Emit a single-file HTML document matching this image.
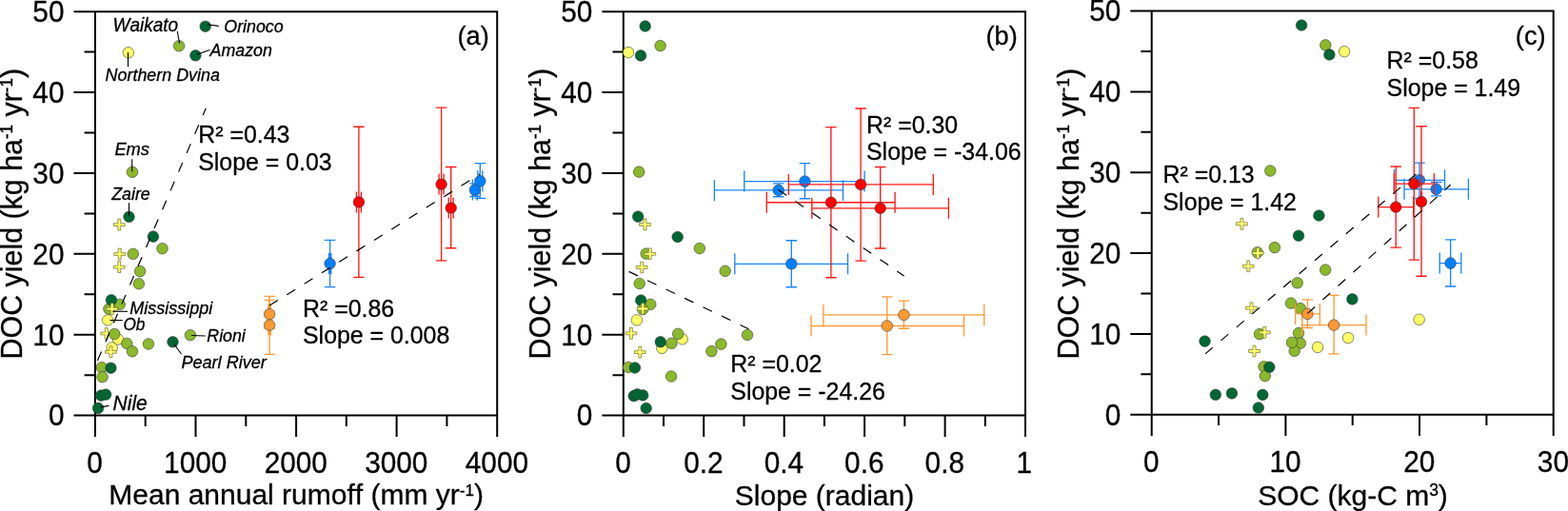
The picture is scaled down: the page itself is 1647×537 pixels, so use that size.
<!DOCTYPE html>
<html lang="en">
<head>
<meta charset="utf-8">
<title>DOC yield vs runoff, slope and SOC</title>
<style>html,body{margin:0;padding:0;background:#fff;}body{width:1647px;height:537px;overflow:hidden;}svg{display:block;}</style>
</head>
<body>
<svg role="img" aria-label="DOC yield scatter plots" width="1647" height="537" viewBox="0 0 1647 537" font-family='"Liberation Sans", Arial, Helvetica, sans-serif' fill="#000" style="font-kerning:none">
<style>text{stroke:#000;stroke-width:0.3px;stroke-linejoin:round}</style>
<rect width="1647" height="537" fill="#fff"/>
<g id="panel-a">
<path d="M77.5 12.2H522.2V458.9M99.9 12.2V458.9M77.5 436.6H522.2M205.5 436.6v22.3M311.1 436.6v22.3M416.6 436.6v22.3M152.7 436.6v11.3M258.3 436.6v11.3M363.8 436.6v11.3M469.4 436.6v11.3M77.5 351.7H99.9M77.5 266.8H99.9M77.5 182H99.9M77.5 97.1H99.9M88.6 394.2H99.9M88.6 309.3H99.9M88.6 224.4H99.9M88.6 139.5H99.9M88.6 54.6H99.9" fill="none" stroke="#000" stroke-width="2.0"/>
<text transform="translate(99.6 496.5) scale(1 1.065)" font-size="29.8" text-anchor="middle">0</text>
<text transform="translate(205.2 496.5) scale(1 1.065)" font-size="29.8" text-anchor="middle">1000</text>
<text transform="translate(310.8 496.5) scale(1 1.065)" font-size="29.8" text-anchor="middle">2000</text>
<text transform="translate(416.3 496.5) scale(1 1.065)" font-size="29.8" text-anchor="middle">3000</text>
<text transform="translate(521.9 496.5) scale(1 1.065)" font-size="29.8" text-anchor="middle">4000</text>
<text transform="translate(67.5 447.4) scale(1 1.065)" font-size="29.8" text-anchor="end">0</text>
<text transform="translate(67.5 362.5) scale(1 1.065)" font-size="29.8" text-anchor="end">10</text>
<text transform="translate(67.5 277.6) scale(1 1.065)" font-size="29.8" text-anchor="end">20</text>
<text transform="translate(67.5 192.8) scale(1 1.065)" font-size="29.8" text-anchor="end">30</text>
<text transform="translate(67.5 107.9) scale(1 1.065)" font-size="29.8" text-anchor="end">40</text>
<text transform="translate(67.5 23) scale(1 1.065)" font-size="29.8" text-anchor="end">50</text>
<circle cx="134.8" cy="55.3" r="5.8" fill="#ffff66" stroke="#3a3a3a" stroke-width="0.6"/>
<circle cx="188.1" cy="48.3" r="5.8" fill="#8cb82b" stroke="#3a3a3a" stroke-width="0.6"/>
<circle cx="215.7" cy="27.7" r="5.8" fill="#006633" stroke="#3a3a3a" stroke-width="0.6"/>
<circle cx="205.4" cy="58.3" r="5.8" fill="#006633" stroke="#3a3a3a" stroke-width="0.6"/>
<circle cx="139" cy="180.8" r="5.8" fill="#8cb82b" stroke="#3a3a3a" stroke-width="0.6"/>
<circle cx="135.5" cy="227.8" r="5.8" fill="#006633" stroke="#3a3a3a" stroke-width="0.6"/>
<polygon points="123.8,230.2 126.7,230.2 126.7,234.7 131.1,234.7 131.1,237.5 126.7,237.5 126.7,242 123.8,242 123.8,237.5 119.3,237.5 119.3,234.7 123.8,234.7" fill="#ffff66" stroke="#6b6b3a" stroke-width="0.7"/>
<circle cx="160.9" cy="248.6" r="5.8" fill="#006633" stroke="#3a3a3a" stroke-width="0.6"/>
<circle cx="170.5" cy="261.2" r="5.8" fill="#8cb82b" stroke="#3a3a3a" stroke-width="0.6"/>
<circle cx="139.8" cy="266.8" r="5.8" fill="#8cb82b" stroke="#3a3a3a" stroke-width="0.6"/>
<polygon points="124.2,261.1 127.2,261.1 127.2,265.6 131.6,265.6 131.6,268.4 127.2,268.4 127.2,272.9 124.2,272.9 124.2,268.4 119.8,268.4 119.8,265.6 124.2,265.6" fill="#ffff66" stroke="#6b6b3a" stroke-width="0.7"/>
<polygon points="123.8,274.7 126.7,274.7 126.7,279.2 131.1,279.2 131.1,282.1 126.7,282.1 126.7,286.5 123.8,286.5 123.8,282.1 119.3,282.1 119.3,279.2 123.8,279.2" fill="#ffff66" stroke="#6b6b3a" stroke-width="0.7"/>
<circle cx="147.1" cy="285.1" r="5.8" fill="#8cb82b" stroke="#3a3a3a" stroke-width="0.6"/>
<circle cx="145.8" cy="298.2" r="5.8" fill="#8cb82b" stroke="#3a3a3a" stroke-width="0.6"/>
<circle cx="125.7" cy="320" r="5.8" fill="#8cb82b" stroke="#3a3a3a" stroke-width="0.6"/>
<circle cx="114.4" cy="324.6" r="5.8" fill="#8cb82b" stroke="#3a3a3a" stroke-width="0.6"/>
<circle cx="116.9" cy="315.3" r="5.8" fill="#006633" stroke="#3a3a3a" stroke-width="0.6"/>
<polygon points="116.2,318.7 119.2,318.7 119.2,323.2 123.6,323.2 123.6,326.1 119.2,326.1 119.2,330.5 116.2,330.5 116.2,326.1 111.8,326.1 111.8,323.2 116.2,323.2" fill="#ffff66" stroke="#6b6b3a" stroke-width="0.7"/>
<circle cx="113.2" cy="336.4" r="5.8" fill="#ffff66" stroke="#3a3a3a" stroke-width="0.6"/>
<circle cx="124" cy="356.5" r="5.8" fill="#ffff66" stroke="#3a3a3a" stroke-width="0.6"/>
<polygon points="110.2,344.6 113.2,344.6 113.2,349.1 117.6,349.1 117.6,351.9 113.2,351.9 113.2,356.4 110.2,356.4 110.2,351.9 105.8,351.9 105.8,349.1 110.2,349.1" fill="#ffff66" stroke="#6b6b3a" stroke-width="0.7"/>
<circle cx="120.2" cy="351" r="5.8" fill="#8cb82b" stroke="#3a3a3a" stroke-width="0.6"/>
<circle cx="133.3" cy="361" r="5.8" fill="#8cb82b" stroke="#3a3a3a" stroke-width="0.6"/>
<circle cx="139" cy="369.3" r="5.8" fill="#8cb82b" stroke="#3a3a3a" stroke-width="0.6"/>
<circle cx="155.9" cy="361.5" r="5.8" fill="#8cb82b" stroke="#3a3a3a" stroke-width="0.6"/>
<circle cx="181.5" cy="359.3" r="5.8" fill="#006633" stroke="#3a3a3a" stroke-width="0.6"/>
<circle cx="199.9" cy="352.2" r="5.8" fill="#8cb82b" stroke="#3a3a3a" stroke-width="0.6"/>
<circle cx="117.7" cy="365.5" r="5.8" fill="#ffff66" stroke="#3a3a3a" stroke-width="0.6"/>
<polygon points="115,363.9 117.9,363.9 117.9,368.4 122.3,368.4 122.3,371.2 117.9,371.2 117.9,375.7 115,375.7 115,371.2 110.5,371.2 110.5,368.4 115,368.4" fill="#ffff66" stroke="#6b6b3a" stroke-width="0.7"/>
<circle cx="106.9" cy="386.2" r="5.8" fill="#8cb82b" stroke="#3a3a3a" stroke-width="0.6"/>
<circle cx="116.4" cy="386.7" r="5.8" fill="#006633" stroke="#3a3a3a" stroke-width="0.6"/>
<circle cx="107.6" cy="396.2" r="5.8" fill="#8cb82b" stroke="#3a3a3a" stroke-width="0.6"/>
<circle cx="106.1" cy="415.6" r="5.8" fill="#006633" stroke="#3a3a3a" stroke-width="0.6"/>
<circle cx="111.1" cy="414.6" r="5.8" fill="#006633" stroke="#3a3a3a" stroke-width="0.6"/>
<circle cx="103.1" cy="428.9" r="5.8" fill="#006633" stroke="#3a3a3a" stroke-width="0.6"/>
<path d="M283.1 311.4V372.4M277.4 311.4H288.8M277.4 372.4H288.8M281.9 341.6H284.3M281.9 330.6V352.6M284.3 330.6V352.6" fill="none" stroke="#ff9a36" stroke-width="1.35"/>
<path d="M283.1 315.4V345M277.4 315.4H288.8M277.4 345H288.8M281.9 330.2H284.3M281.9 319.2V341.2M284.3 319.2V341.2" fill="none" stroke="#ff9a36" stroke-width="1.35"/>
<circle cx="283.1" cy="341.6" r="5.8" fill="#ff9933" stroke="#3a3a3a" stroke-width="0.6"/>
<circle cx="283.1" cy="330.2" r="5.8" fill="#ff9933" stroke="#3a3a3a" stroke-width="0.6"/>
<path d="M346.6 252.4V301.6M340.9 252.4H352.3M340.9 301.6H352.3M345.4 277H347.8M345.4 266V288M347.8 266V288" fill="none" stroke="#1a85ff" stroke-width="1.35"/>
<path d="M498.9 192.8V206.5M493.2 192.8H504.6M493.2 206.5H504.6M496.4 199.6H501.4M496.4 188.6V210.6M501.4 188.6V210.6" fill="none" stroke="#1a85ff" stroke-width="1.35"/>
<path d="M504.3 171.6V208.4M498.6 171.6H510M498.6 208.4H510M501.8 190.3H506.8M501.8 179.3V201.3M506.8 179.3V201.3" fill="none" stroke="#1a85ff" stroke-width="1.35"/>
<circle cx="346.6" cy="277" r="5.8" fill="#0080ff" stroke="#3a3a3a" stroke-width="0.6"/>
<circle cx="498.9" cy="199.6" r="5.8" fill="#0080ff" stroke="#3a3a3a" stroke-width="0.6"/>
<circle cx="504.3" cy="190.3" r="5.8" fill="#0080ff" stroke="#3a3a3a" stroke-width="0.6"/>
<path d="M376.9 133.2V291.4M371.2 133.2H382.6M371.2 291.4H382.6M374.4 212.4H379.4M374.4 201.4V223.4M379.4 201.4V223.4" fill="none" stroke="#ff1a1a" stroke-width="1.35"/>
<path d="M463.6 113.1V273.8M457.9 113.1H469.3M457.9 273.8H469.3M461.1 193.6H466.1M461.1 182.6V204.6M466.1 182.6V204.6" fill="none" stroke="#ff1a1a" stroke-width="1.35"/>
<path d="M473.7 175.5V260.7M468 175.5H479.4M468 260.7H479.4M471.2 218.5H476.2M471.2 207.5V229.5M476.2 207.5V229.5" fill="none" stroke="#ff1a1a" stroke-width="1.35"/>
<circle cx="376.9" cy="212.4" r="5.8" fill="#ff0000" stroke="#3a3a3a" stroke-width="0.6"/>
<circle cx="463.6" cy="193.6" r="5.8" fill="#ff0000" stroke="#3a3a3a" stroke-width="0.6"/>
<circle cx="473.7" cy="218.5" r="5.8" fill="#ff0000" stroke="#3a3a3a" stroke-width="0.6"/>
<line x1="102.4" y1="379" x2="216.3" y2="113.7" stroke="#000" stroke-width="1.2" stroke-dasharray="10.4 11.2" stroke-dashoffset="0"/>
<line x1="283" y1="321.1" x2="504" y2="183" stroke="#000" stroke-width="1.2" stroke-dasharray="10.4 11.2" stroke-dashoffset="0"/>
<line x1="186.3" y1="33" x2="188.6" y2="45.6" stroke="#000" stroke-width="1.1"/>
<line x1="217.9" y1="25.8" x2="229.8" y2="27.4" stroke="#000" stroke-width="1.1"/>
<line x1="206.8" y1="57.2" x2="220.3" y2="52.4" stroke="#000" stroke-width="1.1"/>
<line x1="134.5" y1="55.1" x2="134.5" y2="70.1" stroke="#000" stroke-width="1.1"/>
<line x1="138.7" y1="167.2" x2="138.7" y2="180.4" stroke="#000" stroke-width="1.1"/>
<line x1="135.5" y1="213.1" x2="135.5" y2="227" stroke="#000" stroke-width="1.1"/>
<line x1="118.5" y1="327.3" x2="134" y2="327.3" stroke="#000" stroke-width="1.1"/>
<line x1="115.5" y1="336.6" x2="128.7" y2="336.6" stroke="#000" stroke-width="1.1"/>
<line x1="201.2" y1="352.5" x2="215.7" y2="353" stroke="#000" stroke-width="1.1"/>
<line x1="183" y1="361.8" x2="190.6" y2="372.3" stroke="#000" stroke-width="1.1"/>
<line x1="105.6" y1="427.9" x2="114.4" y2="426.4" stroke="#000" stroke-width="1.1"/>
<text transform="translate(118.5 33.1) scale(1 1.04)" font-size="19" font-style="italic">Waikato</text>
<text transform="translate(235.3 33.8) scale(1 1.04)" font-size="17.8" font-style="italic">Orinoco</text>
<text transform="translate(220.6 59.1) scale(1 1.04)" font-size="17.8" font-style="italic">Amazon</text>
<text transform="translate(110.6 84.9) scale(1 1.04)" font-size="17.9" font-style="italic">Northern Dvina</text>
<text transform="translate(120.4 163.2) scale(1 1.04)" font-size="18.3" font-style="italic">Ems</text>
<text transform="translate(117.2 210.4) scale(1 1.04)" font-size="17.8" font-style="italic">Zaire</text>
<text transform="translate(136.2 330.3) scale(1 1.04)" font-size="18" font-style="italic">Mississippi</text>
<text transform="translate(129.4 346.6) scale(1 1.04)" font-size="17.2" font-style="italic">Ob</text>
<text transform="translate(217.3 358.6) scale(1 1.04)" font-size="17.8" font-style="italic">Rioni</text>
<text transform="translate(190.4 387) scale(1 1.04)" font-size="18.1" font-style="italic">Pearl River</text>
<text transform="translate(118.6 431) scale(1 1.04)" font-size="21" font-style="italic">Nile</text>
<text transform="translate(208.2 150) scale(1 1.04)" font-size="24.9">R² =0.43</text>
<text transform="translate(208.2 179) scale(1 1.04)" font-size="24.9">Slope = 0.03</text>
<text transform="translate(318 332.6) scale(1 1.04)" font-size="24.9">R² =0.86</text>
<text transform="translate(318 361.3) scale(1 1.04)" font-size="24.9">Slope = 0.008</text>
<text transform="translate(480.4 47.3) scale(1 1.04)" font-size="27.3">(a)</text>
<text transform="translate(23 224.7) rotate(-90) scale(1 1.04)" font-size="30.4" text-anchor="middle">DOC yield (kg ha<tspan font-size="17" dy="-9.5">-1</tspan><tspan dy="9.5"> yr</tspan><tspan font-size="17" dy="-9.5">-1</tspan><tspan dy="9.5">)</tspan></text>
<text transform="translate(114.3 530) scale(1 1.0)" font-size="30">Mean annual rumoff (mm yr<tspan font-size="17" dy="-9.5">-1</tspan><tspan dy="9.5">)</tspan></text>
</g>
<g id="panel-b">
<path d="M632.4 12.2H1077V458.9M654.8 12.2V458.9M632.4 436.6H1077M739.2 436.6v22.3M823.7 436.6v22.3M908.1 436.6v22.3M992.6 436.6v22.3M697 436.6v11.3M781.5 436.6v11.3M865.9 436.6v11.3M950.3 436.6v11.3M1034.8 436.6v11.3M632.4 351.7H654.8M632.4 266.8H654.8M632.4 182H654.8M632.4 97.1H654.8M643.5 394.2H654.8M643.5 309.3H654.8M643.5 224.4H654.8M643.5 139.5H654.8M643.5 54.6H654.8" fill="none" stroke="#000" stroke-width="2.0"/>
<text transform="translate(654.5 496.5) scale(1 1.065)" font-size="29.8" text-anchor="middle">0</text>
<text transform="translate(738.9 496.5) scale(1 1.065)" font-size="29.8" text-anchor="middle">0.2</text>
<text transform="translate(823.4 496.5) scale(1 1.065)" font-size="29.8" text-anchor="middle">0.4</text>
<text transform="translate(907.8 496.5) scale(1 1.065)" font-size="29.8" text-anchor="middle">0.6</text>
<text transform="translate(992.3 496.5) scale(1 1.065)" font-size="29.8" text-anchor="middle">0.8</text>
<text transform="translate(1075.7 496.5) scale(1 1.065)" font-size="29.8" text-anchor="middle">1</text>
<text transform="translate(622.4 447.4) scale(1 1.065)" font-size="29.8" text-anchor="end">0</text>
<text transform="translate(622.4 362.5) scale(1 1.065)" font-size="29.8" text-anchor="end">10</text>
<text transform="translate(622.4 277.6) scale(1 1.065)" font-size="29.8" text-anchor="end">20</text>
<text transform="translate(622.4 192.8) scale(1 1.065)" font-size="29.8" text-anchor="end">30</text>
<text transform="translate(622.4 107.9) scale(1 1.065)" font-size="29.8" text-anchor="end">40</text>
<text transform="translate(622.4 23) scale(1 1.065)" font-size="29.8" text-anchor="end">50</text>
<circle cx="677.7" cy="27.5" r="5.8" fill="#006633" stroke="#3a3a3a" stroke-width="0.6"/>
<circle cx="693.6" cy="48.1" r="5.8" fill="#8cb82b" stroke="#3a3a3a" stroke-width="0.6"/>
<circle cx="673" cy="58.4" r="5.8" fill="#006633" stroke="#3a3a3a" stroke-width="0.6"/>
<circle cx="660.1" cy="55.1" r="5.8" fill="#ffff66" stroke="#3a3a3a" stroke-width="0.6"/>
<circle cx="671.2" cy="180.6" r="5.8" fill="#8cb82b" stroke="#3a3a3a" stroke-width="0.6"/>
<circle cx="670.2" cy="227.6" r="5.8" fill="#006633" stroke="#3a3a3a" stroke-width="0.6"/>
<polygon points="676,230 679,230 679,234.5 683.4,234.5 683.4,237.3 679,237.3 679,241.8 676,241.8 676,237.3 671.6,237.3 671.6,234.5 676,234.5" fill="#ffff66" stroke="#6b6b3a" stroke-width="0.7"/>
<circle cx="711.7" cy="249" r="5.8" fill="#006633" stroke="#3a3a3a" stroke-width="0.6"/>
<circle cx="734.8" cy="261" r="5.8" fill="#8cb82b" stroke="#3a3a3a" stroke-width="0.6"/>
<circle cx="678.7" cy="266.6" r="5.8" fill="#8cb82b" stroke="#3a3a3a" stroke-width="0.6"/>
<polygon points="681.3,260.9 684.2,260.9 684.2,265.4 688.7,265.4 688.7,268.2 684.2,268.2 684.2,272.7 681.3,272.7 681.3,268.2 676.9,268.2 676.9,265.4 681.3,265.4" fill="#ffff66" stroke="#6b6b3a" stroke-width="0.7"/>
<polygon points="672.8,275 675.7,275 675.7,279.5 680.1,279.5 680.1,282.4 675.7,282.4 675.7,286.8 672.8,286.8 672.8,282.4 668.3,282.4 668.3,279.5 672.8,279.5" fill="#ffff66" stroke="#6b6b3a" stroke-width="0.7"/>
<circle cx="761.7" cy="284.9" r="5.8" fill="#8cb82b" stroke="#3a3a3a" stroke-width="0.6"/>
<circle cx="671.7" cy="298" r="5.8" fill="#8cb82b" stroke="#3a3a3a" stroke-width="0.6"/>
<circle cx="683.3" cy="319.8" r="5.8" fill="#8cb82b" stroke="#3a3a3a" stroke-width="0.6"/>
<circle cx="673.2" cy="315.6" r="5.8" fill="#006633" stroke="#3a3a3a" stroke-width="0.6"/>
<circle cx="675.2" cy="325.1" r="5.8" fill="#8cb82b" stroke="#3a3a3a" stroke-width="0.6"/>
<polygon points="673.8,318.5 676.7,318.5 676.7,323 681.1,323 681.1,325.9 676.7,325.9 676.7,330.3 673.8,330.3 673.8,325.9 669.3,325.9 669.3,323 673.8,323" fill="#ffff66" stroke="#6b6b3a" stroke-width="0.7"/>
<circle cx="668.9" cy="336.4" r="5.8" fill="#ffff66" stroke="#3a3a3a" stroke-width="0.6"/>
<polygon points="661.4,344.4 664.4,344.4 664.4,348.9 668.8,348.9 668.8,351.8 664.4,351.8 664.4,356.2 661.4,356.2 661.4,351.8 657,351.8 657,348.9 661.4,348.9" fill="#ffff66" stroke="#6b6b3a" stroke-width="0.7"/>
<circle cx="716.7" cy="356.3" r="5.8" fill="#ffff66" stroke="#3a3a3a" stroke-width="0.6"/>
<circle cx="712.2" cy="350.8" r="5.8" fill="#8cb82b" stroke="#3a3a3a" stroke-width="0.6"/>
<circle cx="695.3" cy="365.8" r="5.8" fill="#ffff66" stroke="#3a3a3a" stroke-width="0.6"/>
<circle cx="705.4" cy="360.8" r="5.8" fill="#8cb82b" stroke="#3a3a3a" stroke-width="0.6"/>
<circle cx="693.8" cy="359.3" r="5.8" fill="#006633" stroke="#3a3a3a" stroke-width="0.6"/>
<circle cx="757.4" cy="361.6" r="5.8" fill="#8cb82b" stroke="#3a3a3a" stroke-width="0.6"/>
<circle cx="747.4" cy="369.1" r="5.8" fill="#8cb82b" stroke="#3a3a3a" stroke-width="0.6"/>
<circle cx="785.1" cy="352" r="5.8" fill="#8cb82b" stroke="#3a3a3a" stroke-width="0.6"/>
<polygon points="670.8,364.2 673.7,364.2 673.7,368.7 678.1,368.7 678.1,371.6 673.7,371.6 673.7,376 670.8,376 670.8,371.6 666.3,371.6 666.3,368.7 670.8,368.7" fill="#ffff66" stroke="#6b6b3a" stroke-width="0.7"/>
<circle cx="660.1" cy="386" r="5.8" fill="#8cb82b" stroke="#3a3a3a" stroke-width="0.6"/>
<circle cx="666.9" cy="386.5" r="5.8" fill="#006633" stroke="#3a3a3a" stroke-width="0.6"/>
<circle cx="705.1" cy="395.5" r="5.8" fill="#8cb82b" stroke="#3a3a3a" stroke-width="0.6"/>
<circle cx="665.7" cy="416.1" r="5.8" fill="#006633" stroke="#3a3a3a" stroke-width="0.6"/>
<circle cx="675.2" cy="415.4" r="5.8" fill="#006633" stroke="#3a3a3a" stroke-width="0.6"/>
<circle cx="669.4" cy="414.4" r="5.8" fill="#006633" stroke="#3a3a3a" stroke-width="0.6"/>
<circle cx="678.7" cy="429" r="5.8" fill="#006633" stroke="#3a3a3a" stroke-width="0.6"/>
<path d="M931.8 311.8V372.6M926.1 311.8H937.5M926.1 372.6H937.5M852 342.5H1012.5M852 331.5V353.5M1012.5 331.5V353.5" fill="none" stroke="#ff9a36" stroke-width="1.35"/>
<path d="M949.4 316.1V345.2M943.7 316.1H955.1M943.7 345.2H955.1M864.9 330.9H1033.8M864.9 319.9V341.9M1033.8 319.9V341.9" fill="none" stroke="#ff9a36" stroke-width="1.35"/>
<circle cx="931.8" cy="342.5" r="5.8" fill="#ff9933" stroke="#3a3a3a" stroke-width="0.6"/>
<circle cx="949.4" cy="330.9" r="5.8" fill="#ff9933" stroke="#3a3a3a" stroke-width="0.6"/>
<path d="M831.3 252.7V301.7M825.6 252.7H837M825.6 301.7H837M771.8 277.3H890.5M771.8 266.3V288.3M890.5 266.3V288.3" fill="none" stroke="#1a85ff" stroke-width="1.35"/>
<path d="M817.7 192.9V206.7M812 192.9H823.4M812 206.7H823.4M750.4 199.9H885.5M750.4 188.9V210.9M885.5 188.9V210.9" fill="none" stroke="#1a85ff" stroke-width="1.35"/>
<path d="M845.4 171.6V208.7M839.7 171.6H851.1M839.7 208.7H851.1M781.8 190.6H908.1M781.8 179.6V201.6M908.1 179.6V201.6" fill="none" stroke="#1a85ff" stroke-width="1.35"/>
<circle cx="831.3" cy="277.3" r="5.8" fill="#0080ff" stroke="#3a3a3a" stroke-width="0.6"/>
<circle cx="817.7" cy="199.9" r="5.8" fill="#0080ff" stroke="#3a3a3a" stroke-width="0.6"/>
<circle cx="845.4" cy="190.6" r="5.8" fill="#0080ff" stroke="#3a3a3a" stroke-width="0.6"/>
<path d="M872.9 133.6V291.7M867.2 133.6H878.6M867.2 291.7H878.6M805.3 212.7H940.1M805.3 201.7V223.7M940.1 201.7V223.7" fill="none" stroke="#ff1a1a" stroke-width="1.35"/>
<path d="M904.1 114V274.1M898.4 114H909.8M898.4 274.1H909.8M828.3 193.9H980.3M828.3 182.9V204.9M980.3 182.9V204.9" fill="none" stroke="#ff1a1a" stroke-width="1.35"/>
<path d="M924.7 175.5V261M919 175.5H930.4M919 261H930.4M852.8 218.8H996.4M852.8 207.8V229.8M996.4 207.8V229.8" fill="none" stroke="#ff1a1a" stroke-width="1.35"/>
<circle cx="872.9" cy="212.7" r="5.8" fill="#ff0000" stroke="#3a3a3a" stroke-width="0.6"/>
<circle cx="904.1" cy="193.9" r="5.8" fill="#ff0000" stroke="#3a3a3a" stroke-width="0.6"/>
<circle cx="924.7" cy="218.8" r="5.8" fill="#ff0000" stroke="#3a3a3a" stroke-width="0.6"/>
<line x1="660.6" y1="285.4" x2="786.4" y2="345.7" stroke="#000" stroke-width="1.2" stroke-dasharray="10.4 11.2" stroke-dashoffset="0"/>
<line x1="817.6" y1="199.4" x2="949.6" y2="289.9" stroke="#000" stroke-width="1.2" stroke-dasharray="10.4 11.2" stroke-dashoffset="0"/>
<text transform="translate(910 139.5) scale(1 1.04)" font-size="24.9">R² =0.30</text>
<text transform="translate(910 168.2) scale(1 1.04)" font-size="24.9">Slope = -34.06</text>
<text transform="translate(767.3 391.3) scale(1 1.04)" font-size="24.9">R² =0.02</text>
<text transform="translate(767.3 420) scale(1 1.04)" font-size="24.9">Slope = -24.26</text>
<text transform="translate(1035.4 47.3) scale(1 1.04)" font-size="27.3">(b)</text>
<text transform="translate(578 224.7) rotate(-90) scale(1 1.04)" font-size="30.4" text-anchor="middle">DOC yield (kg ha<tspan font-size="17" dy="-9.5">-1</tspan><tspan dy="9.5"> yr</tspan><tspan font-size="17" dy="-9.5">-1</tspan><tspan dy="9.5">)</tspan></text>
<text transform="translate(866 530.5) scale(1 1.0)" font-size="30" text-anchor="middle">Slope (radian)</text>
</g>
<g id="panel-c">
<path d="M1187.3 11.5H1631.7V458.1M1209.7 11.5V458.1M1187.3 435.8H1631.7M1350.4 435.8v22.3M1491 435.8v22.3M1280 435.8v11.3M1420.7 435.8v11.3M1561.4 435.8v11.3M1187.3 350.9H1209.7M1187.3 266.1H1209.7M1187.3 181.2H1209.7M1187.3 96.4H1209.7M1198.4 393.3H1209.7M1198.4 308.5H1209.7M1198.4 223.7H1209.7M1198.4 138.8H1209.7M1198.4 54H1209.7" fill="none" stroke="#000" stroke-width="2.0"/>
<text transform="translate(1209.4 495.6) scale(1 1.065)" font-size="29.8" text-anchor="middle">0</text>
<text transform="translate(1350.1 495.6) scale(1 1.065)" font-size="29.8" text-anchor="middle">10</text>
<text transform="translate(1490.7 495.6) scale(1 1.065)" font-size="29.8" text-anchor="middle">20</text>
<text transform="translate(1631.4 495.6) scale(1 1.065)" font-size="29.8" text-anchor="middle">30</text>
<text transform="translate(1177.3 446.6) scale(1 1.065)" font-size="29.8" text-anchor="end">0</text>
<text transform="translate(1177.3 361.7) scale(1 1.065)" font-size="29.8" text-anchor="end">10</text>
<text transform="translate(1177.3 276.9) scale(1 1.065)" font-size="29.8" text-anchor="end">20</text>
<text transform="translate(1177.3 192) scale(1 1.065)" font-size="29.8" text-anchor="end">30</text>
<text transform="translate(1177.3 107.2) scale(1 1.065)" font-size="29.8" text-anchor="end">40</text>
<text transform="translate(1177.3 22.4) scale(1 1.065)" font-size="29.8" text-anchor="end">50</text>
<circle cx="1367.1" cy="26.5" r="5.8" fill="#006633" stroke="#3a3a3a" stroke-width="0.6"/>
<circle cx="1392.3" cy="47.4" r="5.8" fill="#8cb82b" stroke="#3a3a3a" stroke-width="0.6"/>
<circle cx="1396.4" cy="57.4" r="5.8" fill="#006633" stroke="#3a3a3a" stroke-width="0.6"/>
<circle cx="1412.1" cy="54.2" r="5.8" fill="#ffff66" stroke="#3a3a3a" stroke-width="0.6"/>
<circle cx="1334.3" cy="179.5" r="5.8" fill="#8cb82b" stroke="#3a3a3a" stroke-width="0.6"/>
<circle cx="1385.4" cy="226.5" r="5.8" fill="#006633" stroke="#3a3a3a" stroke-width="0.6"/>
<polygon points="1303,229.3 1305.9,229.3 1305.9,233.8 1310.3,233.8 1310.3,236.7 1305.9,236.7 1305.9,241.2 1303,241.2 1303,236.7 1298.5,236.7 1298.5,233.8 1303,233.8" fill="#ffff66" stroke="#6b6b3a" stroke-width="0.7"/>
<circle cx="1364" cy="247.7" r="5.8" fill="#006633" stroke="#3a3a3a" stroke-width="0.6"/>
<circle cx="1338.9" cy="260.1" r="5.8" fill="#8cb82b" stroke="#3a3a3a" stroke-width="0.6"/>
<circle cx="1320.8" cy="265.3" r="5.8" fill="#8cb82b" stroke="#3a3a3a" stroke-width="0.6"/>
<polygon points="1319.8,260.1 1322.8,260.1 1322.8,264.5 1327.2,264.5 1327.2,267.4 1322.8,267.4 1322.8,271.8 1319.8,271.8 1319.8,267.4 1315.4,267.4 1315.4,264.5 1319.8,264.5" fill="#ffff66" stroke="#6b6b3a" stroke-width="0.7"/>
<polygon points="1309.8,273.9 1312.7,273.9 1312.7,278.3 1317.1,278.3 1317.1,281.2 1312.7,281.2 1312.7,285.6 1309.8,285.6 1309.8,281.2 1305.3,281.2 1305.3,278.3 1309.8,278.3" fill="#ffff66" stroke="#6b6b3a" stroke-width="0.7"/>
<circle cx="1392.2" cy="283.6" r="5.8" fill="#8cb82b" stroke="#3a3a3a" stroke-width="0.6"/>
<circle cx="1362.7" cy="297.3" r="5.8" fill="#8cb82b" stroke="#3a3a3a" stroke-width="0.6"/>
<polygon points="1313,317.9 1316,317.9 1316,322.3 1320.4,322.3 1320.4,325.2 1316,325.2 1316,329.6 1313,329.6 1313,325.2 1308.6,325.2 1308.6,322.3 1313,322.3" fill="#ffff66" stroke="#6b6b3a" stroke-width="0.7"/>
<circle cx="1356" cy="318.6" r="5.8" fill="#8cb82b" stroke="#3a3a3a" stroke-width="0.6"/>
<circle cx="1365.8" cy="324.1" r="5.8" fill="#8cb82b" stroke="#3a3a3a" stroke-width="0.6"/>
<circle cx="1323" cy="351.1" r="5.8" fill="#8cb82b" stroke="#3a3a3a" stroke-width="0.6"/>
<polygon points="1326.8,343.4 1329.8,343.4 1329.8,347.9 1334.2,347.9 1334.2,350.8 1329.8,350.8 1329.8,355.2 1326.8,355.2 1326.8,350.8 1322.4,350.8 1322.4,347.9 1326.8,347.9" fill="#ffff66" stroke="#6b6b3a" stroke-width="0.7"/>
<circle cx="1265.5" cy="358.6" r="5.8" fill="#006633" stroke="#3a3a3a" stroke-width="0.6"/>
<circle cx="1364" cy="350.1" r="5.8" fill="#8cb82b" stroke="#3a3a3a" stroke-width="0.6"/>
<circle cx="1365.8" cy="360.8" r="5.8" fill="#8cb82b" stroke="#3a3a3a" stroke-width="0.6"/>
<circle cx="1359.7" cy="368.8" r="5.8" fill="#8cb82b" stroke="#3a3a3a" stroke-width="0.6"/>
<circle cx="1357" cy="359.9" r="5.8" fill="#8cb82b" stroke="#3a3a3a" stroke-width="0.6"/>
<circle cx="1384.1" cy="364.9" r="5.8" fill="#ffff66" stroke="#3a3a3a" stroke-width="0.6"/>
<circle cx="1416.1" cy="355.1" r="5.8" fill="#ffff66" stroke="#3a3a3a" stroke-width="0.6"/>
<circle cx="1490.6" cy="335.8" r="5.8" fill="#ffff66" stroke="#3a3a3a" stroke-width="0.6"/>
<circle cx="1420.4" cy="314.4" r="5.8" fill="#006633" stroke="#3a3a3a" stroke-width="0.6"/>
<polygon points="1316,363.1 1319,363.1 1319,367.5 1323.4,367.5 1323.4,370.4 1319,370.4 1319,374.8 1316,374.8 1316,370.4 1311.6,370.4 1311.6,367.5 1316,367.5" fill="#ffff66" stroke="#6b6b3a" stroke-width="0.7"/>
<circle cx="1327.6" cy="385.3" r="5.8" fill="#8cb82b" stroke="#3a3a3a" stroke-width="0.6"/>
<circle cx="1328.8" cy="395.1" r="5.8" fill="#8cb82b" stroke="#3a3a3a" stroke-width="0.6"/>
<circle cx="1333.3" cy="385.8" r="5.8" fill="#006633" stroke="#3a3a3a" stroke-width="0.6"/>
<circle cx="1276.8" cy="414.8" r="5.8" fill="#006633" stroke="#3a3a3a" stroke-width="0.6"/>
<circle cx="1293.9" cy="413.4" r="5.8" fill="#006633" stroke="#3a3a3a" stroke-width="0.6"/>
<circle cx="1326.3" cy="414.9" r="5.8" fill="#006633" stroke="#3a3a3a" stroke-width="0.6"/>
<circle cx="1321.8" cy="428.5" r="5.8" fill="#006633" stroke="#3a3a3a" stroke-width="0.6"/>
<path d="M1373.4 314.9V344.5M1367.7 314.9H1379.1M1367.7 344.5H1379.1M1360.6 329.9H1386.3M1360.6 318.9V340.9M1386.3 318.9V340.9" fill="none" stroke="#ff9a36" stroke-width="1.35"/>
<path d="M1401.1 310.3V371.9M1395.4 310.3H1406.8M1395.4 371.9H1406.8M1367.7 341.6H1435M1367.7 330.6V352.6M1435 330.6V352.6" fill="none" stroke="#ff9a36" stroke-width="1.35"/>
<circle cx="1373.4" cy="329.9" r="5.8" fill="#ff9933" stroke="#3a3a3a" stroke-width="0.6"/>
<circle cx="1401.1" cy="341.6" r="5.8" fill="#ff9933" stroke="#3a3a3a" stroke-width="0.6"/>
<path d="M1523.6 251.8V301M1517.9 251.8H1529.3M1517.9 301H1529.3M1512.2 276.6H1534.8M1512.2 265.6V287.6M1534.8 265.6V287.6" fill="none" stroke="#1a85ff" stroke-width="1.35"/>
<path d="M1508.6 191.5V205.8M1502.9 191.5H1514.3M1502.9 205.8H1514.3M1475 198.8H1542.4M1475 187.8V209.8M1542.4 187.8V209.8" fill="none" stroke="#1a85ff" stroke-width="1.35"/>
<path d="M1491 171.1V208.3M1485.3 171.1H1496.7M1485.3 208.3H1496.7M1464.4 189.3H1517.5M1464.4 178.3V200.3M1517.5 178.3V200.3" fill="none" stroke="#1a85ff" stroke-width="1.35"/>
<circle cx="1523.6" cy="276.6" r="5.8" fill="#0080ff" stroke="#3a3a3a" stroke-width="0.6"/>
<circle cx="1491" cy="189.3" r="5.8" fill="#0080ff" stroke="#3a3a3a" stroke-width="0.6"/>
<circle cx="1508.6" cy="198.8" r="5.8" fill="#0080ff" stroke="#3a3a3a" stroke-width="0.6"/>
<path d="M1466.2 175V260.1M1460.5 175H1471.9M1460.5 260.1H1471.9M1447.8 217.6H1484.8M1447.8 206.6V228.6M1484.8 206.6V228.6" fill="none" stroke="#ff1a1a" stroke-width="1.35"/>
<path d="M1493 132.7V290.2M1487.3 132.7H1498.7M1487.3 290.2H1498.7M1492.5 212H1493.5M1492.5 201V223M1493.5 201V223" fill="none" stroke="#ff1a1a" stroke-width="1.35"/>
<path d="M1485.3 113.4V273.1M1479.6 113.4H1491M1479.6 273.1H1491M1464.4 193.1H1506.4M1464.4 182.1V204.1M1506.4 182.1V204.1" fill="none" stroke="#ff1a1a" stroke-width="1.35"/>
<circle cx="1466.2" cy="217.6" r="5.8" fill="#ff0000" stroke="#3a3a3a" stroke-width="0.6"/>
<circle cx="1493" cy="212" r="5.8" fill="#ff0000" stroke="#3a3a3a" stroke-width="0.6"/>
<circle cx="1485.3" cy="193.1" r="5.8" fill="#ff0000" stroke="#3a3a3a" stroke-width="0.6"/>
<line x1="1266" y1="371.9" x2="1487.4" y2="183" stroke="#000" stroke-width="1.2" stroke-dasharray="10.4 11.2" stroke-dashoffset="0"/>
<line x1="1373.4" y1="329.4" x2="1523.6" y2="194.3" stroke="#000" stroke-width="1.2" stroke-dasharray="10.4 11.2" stroke-dashoffset="0"/>
<text transform="translate(1221.5 192.3) scale(1 1.04)" font-size="24.9">R² =0.13</text>
<text transform="translate(1221.5 220.5) scale(1 1.04)" font-size="24.9">Slope = 1.42</text>
<text transform="translate(1456.6 72.2) scale(1 1.04)" font-size="24.9">R² =0.58</text>
<text transform="translate(1456.6 100.6) scale(1 1.04)" font-size="24.9">Slope = 1.49</text>
<text transform="translate(1591.8 47.3) scale(1 1.04)" font-size="27.3">(c)</text>
<text transform="translate(1133 224.7) rotate(-90) scale(1 1.04)" font-size="30.4" text-anchor="middle">DOC yield (kg ha<tspan font-size="17" dy="-9.5">-1</tspan><tspan dy="9.5"> yr</tspan><tspan font-size="17" dy="-9.5">-1</tspan><tspan dy="9.5">)</tspan></text>
<text transform="translate(1421 530.5) scale(1 1.0)" font-size="30" text-anchor="middle">SOC (kg-C m<tspan font-size="17.5" dy="-9.5">3</tspan><tspan dy="9.5">)</tspan></text>
</g>
</svg>
</body>
</html>
